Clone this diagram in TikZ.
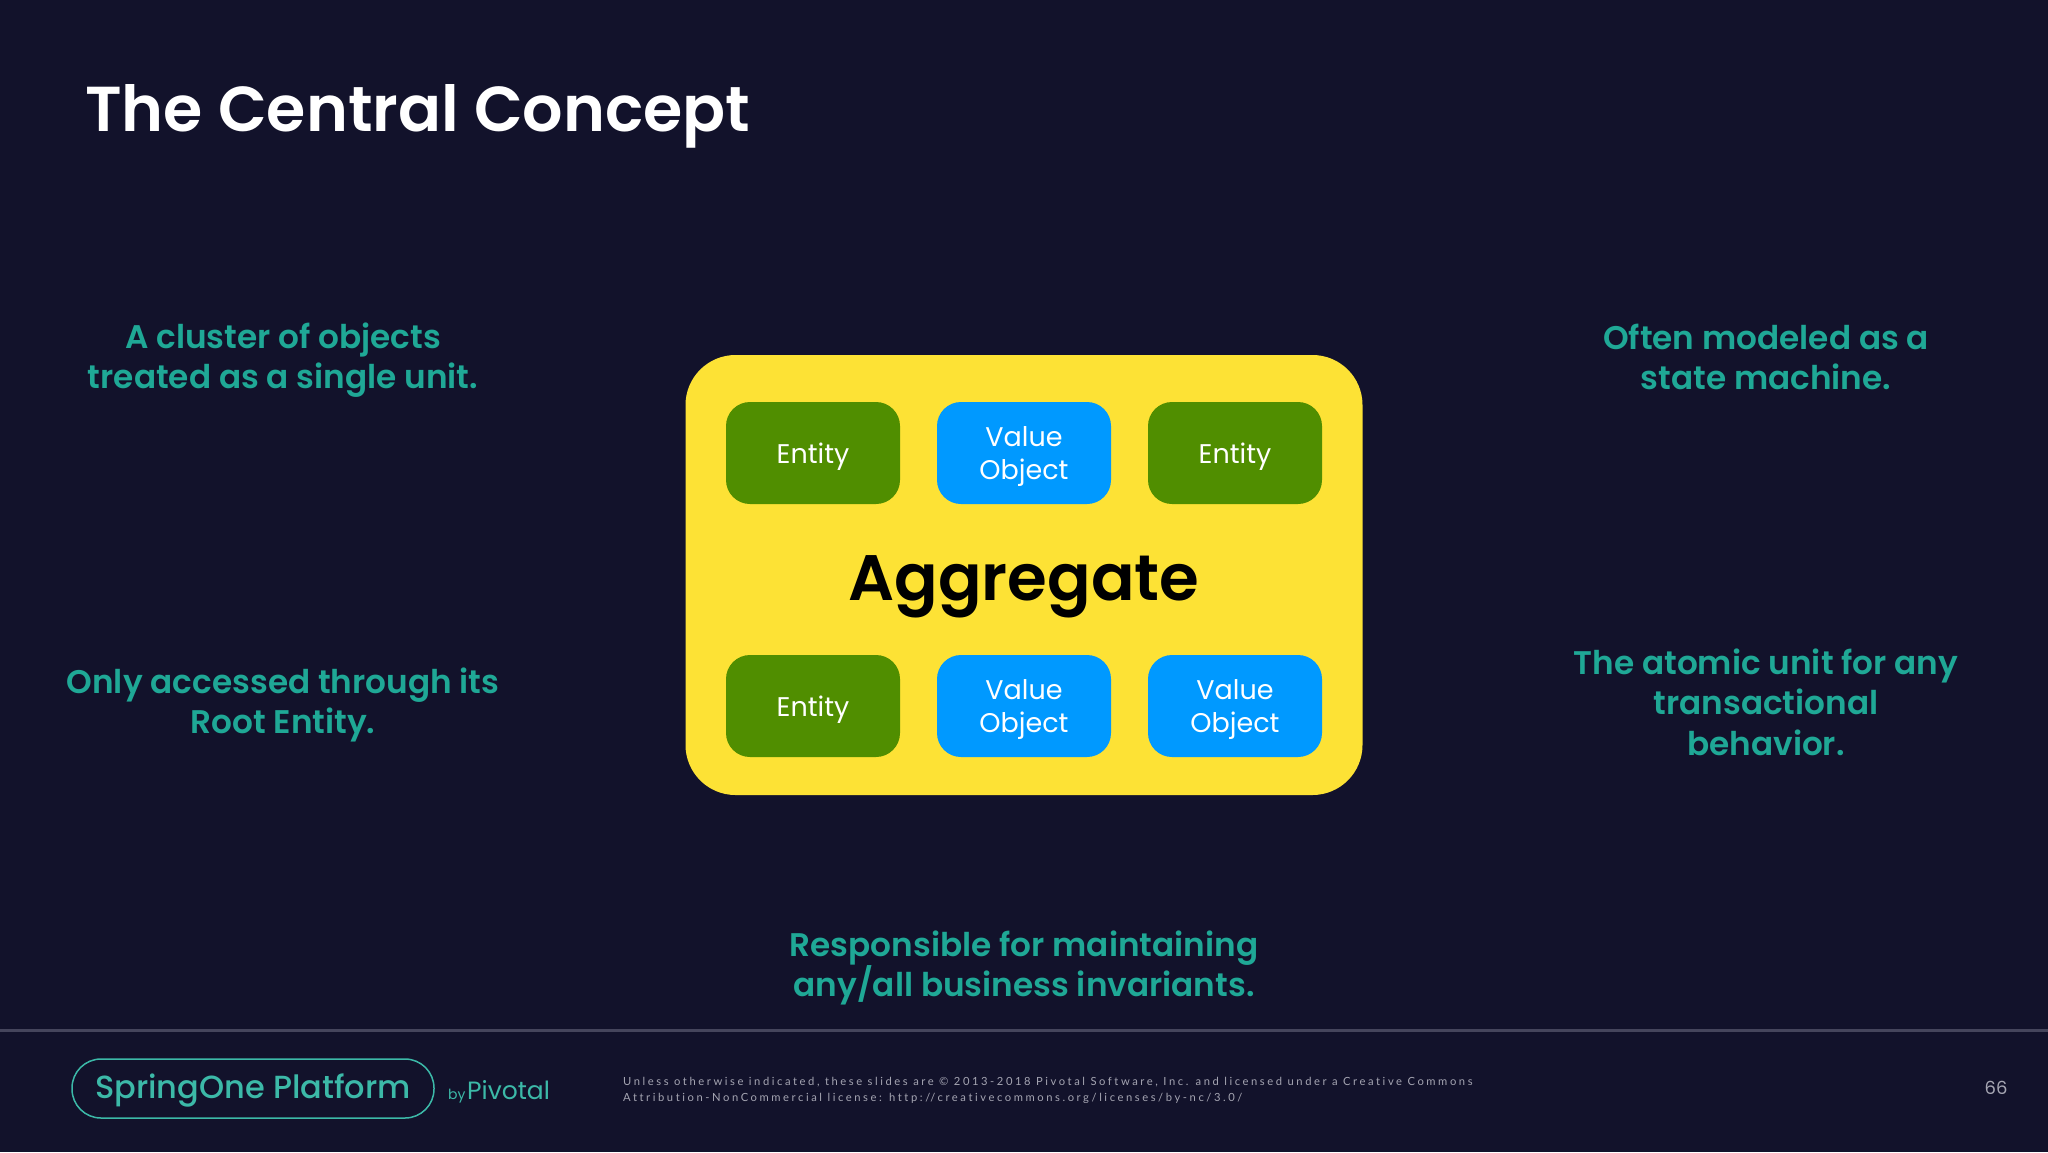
\documentclass[tikz,border=0pt]{standalone}
\usepackage{fontspec}
\setmainfont{Poppins}[BoldFont={Poppins SemiBold}]
\newfontfamily\logofont{Poppins Medium}
\newfontfamily\finefont[LetterSpace=23,Ligatures=NoCommon]{Lato}
\definecolor{bgc}{HTML}{12122B}
\definecolor{tealc}{HTML}{1FA896}
\definecolor{logoc}{HTML}{3CB9A8}
\definecolor{yel}{HTML}{FDE235}
\definecolor{grn}{HTML}{508E00}
\definecolor{blu}{HTML}{0099FF}
\definecolor{rulec}{HTML}{45455C}
\definecolor{finec}{HTML}{A5A5B2}
\tikzset{
  x=1pt,y=-1pt,
  card/.style={rounded corners=24pt,minimum width=174pt,minimum height=102pt,inner sep=0pt},
  entitybox/.style={card,fill=grn},
  valuebox/.style={card,fill=blu},
  boxtext/.style={text=white,align=center,inner sep=0pt,yshift=-4pt,font=\fontsize{27}{33}\selectfont},
  note/.style={text=tealc,align=center,inner sep=0pt,font=\fontsize{32.7}{40.5}\selectfont\bfseries},
}
\begin{document}
\begin{tikzpicture}
\useasboundingbox (0,0) rectangle (2048,1152);
\fill[bgc] (0,0) rectangle (2048,1152);
\node[anchor=west,text=white,inner sep=0pt,font=\fontsize{63.5}{74}\selectfont\bfseries] (title) at (85,116) {The Central Concept};
\node[fill=yel,rounded corners=50pt,minimum width=677pt,minimum height=440pt,inner sep=0pt] (agg) at (1024,575) {};
\node[entitybox,label={[boxtext]center:Entity}] (e1) at (813,453) {};
\node[valuebox,label={[boxtext]center:{Value\\Object}}] (v1) at (1024,453) {};
\node[entitybox,label={[boxtext]center:Entity}] (e2) at (1235,453) {};
\node[entitybox,label={[boxtext]center:Entity}] (e3) at (813,706) {};
\node[valuebox,label={[boxtext]center:{Value\\Object}}] (v2) at (1024,706) {};
\node[valuebox,label={[boxtext]center:{Value\\Object}}] (v3) at (1235,706) {};
\node[text=black,inner sep=0pt,font=\fontsize{64.3}{76}\selectfont\bfseries] (agglabel) at (1024,587) {Aggregate};
\node[note] (n1) at (283,360) {A cluster of objects\\treated as a single unit.};
\node[note] (n2) at (283,705) {Only accessed through its\\Root Entity.};
\node[note] (n3) at (1766,357) {Often modeled as a\\state machine.};
\node[note] (n4) at (1766,702) {The atomic unit for any\\transactional\\behavior.};
\node[note] (n5) at (1024,968) {Responsible for maintaining\\any/all business invariants.};
\draw[rulec,line width=3pt] (0,1030) -- (2048,1030);
\node[draw=logoc,line width=1.5pt,rounded corners=29pt,minimum width=362pt,minimum height=59pt,inner sep=0pt] (pill) at (253,1088.5) {};
\node[text=logoc,inner sep=0pt,font=\fontsize{32}{40}\logofont] (spring) at (253,1090) {SpringOne Platform};
\node[text=logoc,anchor=base west,inner sep=0pt,font=\fontsize{14}{16}\selectfont] (by) at (448,1099) {by};
\node[text=logoc,anchor=base west,inner sep=0pt,font=\fontsize{25}{30}\selectfont] (piv) at (467,1099) {Pivotal};
\node[text=finec,anchor=west,align=left,inner sep=0pt,font=\fontsize{11.2}{16}\finefont] (legal) at (623,1090) {Unless otherwise indicated, these slides are © 2013-2018 Pivotal Software, Inc. and licensed under a Creative Commons\\Attribution-NonCommercial license: http://creativecommons.org/licenses/by-nc/3.0/};
\node[text=finec,inner sep=0pt,font=\fontsize{18}{22}\selectfont] (page) at (1996,1088) {66};
\end{tikzpicture}
\end{document}
